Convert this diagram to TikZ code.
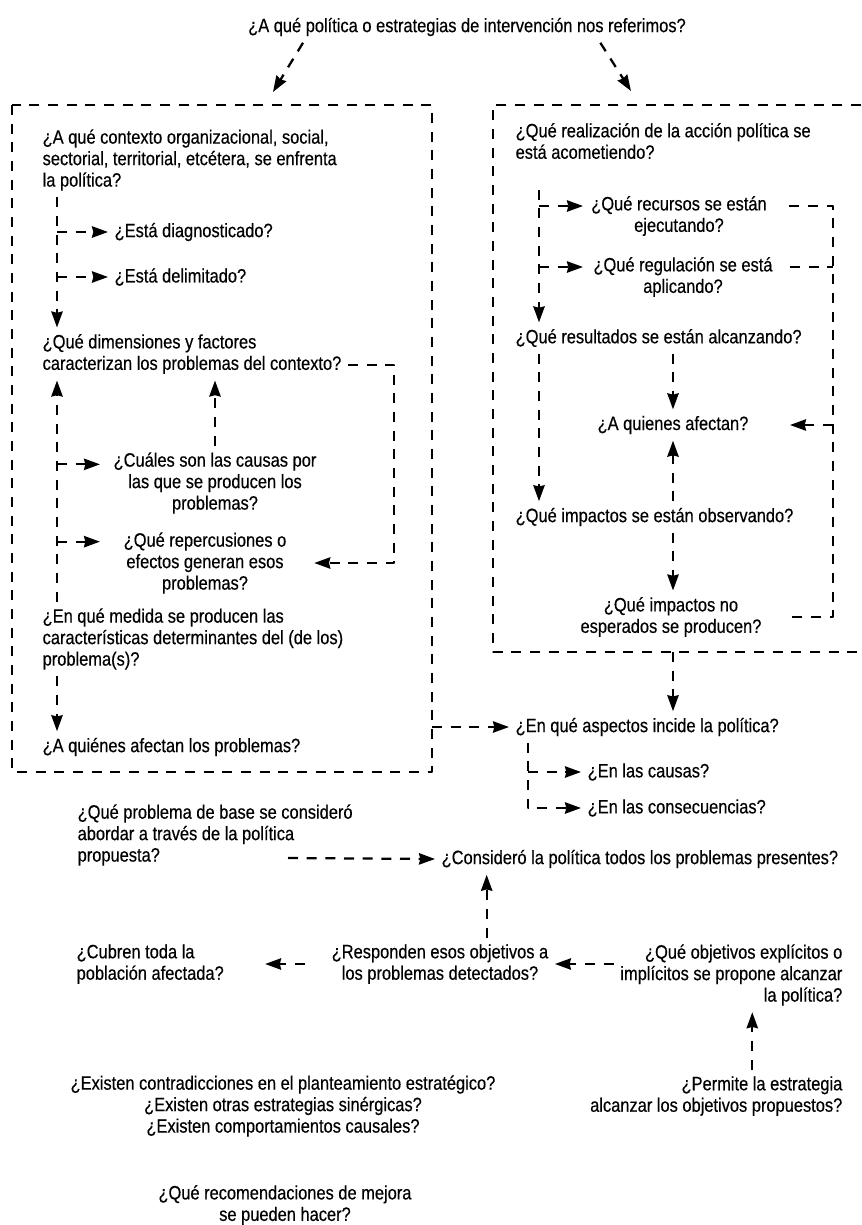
\documentclass[tikz,border=0pt]{standalone}
\usepackage{fontspec}
\setmainfont[FakeStretch=0.85,FakeBold=0.4]{Liberation Sans}
\usetikzlibrary{arrows.meta}

\begin{document}
\begin{tikzpicture}[x=0.75pt,y=-0.75pt,>={Stealth[length=12pt,width=8.5pt,inset=1pt]},
	font=\fontsize{14.5}{16.1}\selectfont, line join=round,
	q/.style={inner sep=0pt,outer sep=5pt,align=left},
	qc/.style={q,align=center},
	qr/.style={q,align=right},
	dl/.style={line width=1.7pt,dash pattern=on 7.5pt off 6.5pt},
	link/.style={dl,->}]
		%	\draw[color=gray!50,dashed] (0,0) grid[step=50] (861,1225);
		\useasboundingbox (0,0) rectangle (861,1225);
		\node[q] (title) at (467,27) {¿A qué política o estrategias de intervención nos referimos?};
		% left box
		\coordinate (lnw) at (12,105); \coordinate (lse) at (432,772);
		\draw[dl] (lnw) rectangle (lse);
		\node[q,anchor=west] (ctx) at (36,160) {¿A qué contexto organizacional, social,\\sectorial, territorial, etcétera, se enfrenta\\la política?};
		\node[q,anchor=west] (diag) at (108,232) {¿Está diagnosticado?};
		\node[q,anchor=west] (delim) at (108,277) {¿Está delimitado?};
		\node[q,anchor=west] (dims) at (36,354) {¿Qué dimensiones y factores\\caracterizan los problemas del contexto?};
		\node[qc] (caus) at (215,483) {¿Cuáles son las causas por\\las que se producen los\\problemas?};
		\node[qc] (rep) at (205,563) {¿Qué repercusiones o\\efectos generan esos\\problemas?};
		\node[q,anchor=west] (medida) at (36,639) {¿En qué medida se producen las\\características determinantes del (de los)\\problema(s)?};
		\node[q,anchor=west] (afect) at (36,747) {¿A quiénes afectan los problemas?};
		% right box
		\coordinate (rnw) at (493,105); \coordinate (rse) at (861,652);
		\draw[dl] (rse |- rnw) -- (rnw) |- (rse);
		\node[q,anchor=west] (real) at (509,141) {¿Qué realización de la acción política se\\está acometiendo?};
		\node[qc] (recur) at (679,216) {¿Qué recursos se están\\ejecutando?};
		\node[qc] (regul) at (683,277) {¿Qué regulación se está\\aplicando?};
		\node[q,anchor=west] (result) at (509,338) {¿Qué resultados se están alcanzando?};
		\node[qc] (quien) at (673,425) {¿A quienes afectan?};
		\node[q,anchor=west] (impobs) at (509,517) {¿Qué impactos se están observando?};
		\node[qc] (impno) at (671,617) {¿Qué impactos no\\esperados se producen?};
		% below
		\node[q,anchor=west] (aspect) at (509,727) {¿En qué aspectos incide la política?};
		\node[q,anchor=west] (causas) at (581,772) {¿En las causas?};
		\node[q,anchor=west] (conse) at (581,808) {¿En las consecuencias?};
		\node[q,anchor=west] (pbase) at (71,835) {¿Qué problema de base se consideró\\abordar a través de la política\\propuesta?};
		\node[q,anchor=west] (consid) at (435,859) {¿Consideró la política todos los problemas presentes?};
		\node[q,anchor=west] (cubren) at (70,964) {¿Cubren toda la\\población afectada?};
		\node[qc] (respond) at (440,964) {¿Responden esos objetivos a\\los problemas detectados?};
		\node[qr,anchor=east] (objet) at (849,975) {¿Qué objetivos explícitos o\\implícitos se propone alcanzar\\la política?};
		\node[qr,anchor=east] (permite) at (849,1096) {¿Permite la estrategia\\alcanzar los objetivos propuestos?};
		\node[qc] (exist) at (283,1106) {¿Existen contradicciones en el planteamiento estratégico?\\¿Existen otras estrategias sinérgicas?\\¿Existen comportamientos causales?};
		\node[qc] (recom) at (285,1205) {¿Qué recomendaciones de mejora\\se pueden hacer?};
		% title arrows
		\coordinate (la) at (273,92); \coordinate (ra) at (631,91);
		\draw[link] ([xshift=-123pt]title.south) -- (la);
		\draw[link] ([xshift=100pt]title.south) -- (ra);
		% left box links
		\coordinate (lx) at (57,0); \coordinate (lt) at (100,0); \coordinate (lr) at (394,0);
		\draw[link] (ctx.south -| lx) -- (dims.north -| lx);
		\draw[link] (diag.west -| lx) -- (diag.west);
		\draw[link] (delim.west -| lx) -- (delim.west);
		\draw[link] (medida.north -| lx) -- (dims.south -| lx);
		\draw[link] ([yshift=14pt]caus.west -| lx) -- ([yshift=14pt]caus.west -| lt);
		\draw[link] ([yshift=16pt]rep.west -| lx) -- ([yshift=16pt]rep.west -| lt);
		\draw[link] (caus.north) -- (caus.north |- dims.south);
		\draw[link] ([yshift=-8pt]dims.east) -- ([yshift=-8pt]dims.east -| lr) |- ([xshift=16pt]rep.east);
		\draw[link] (medida.south -| lx) -- (afect.north -| lx);
		% right box links
		\coordinate (rx) at (539,0); \coordinate (rt) at (583,0); \coordinate (rcx) at (833,0); \coordinate (rq) at (790,0);
		\draw[link] ([yshift=-18pt]real.south -| rx) -- (result.north -| rx);
		\draw[link] ([yshift=7.5pt]recur.west -| rx) -- ([yshift=7.5pt]recur.west -| rt);
		\draw[link] ([yshift=7.5pt]regul.west -| rx) -- ([yshift=7.5pt]regul.west -| rt);
		\draw[dl,shorten <=12pt,shorten >=18pt] ([yshift=7.5pt]recur.east) -| (rcx |- impno) -- (impno.east);
		\draw[dl,shorten <=8pt] ([yshift=7.5pt]regul.east) -- ([yshift=7.5pt]regul.east -| rcx);
		\draw[link] (rcx |- quien) -- (rq |- quien);
		\draw[link] (result.south -| quien) -- (quien.north);
		\draw[link] (result.south -| rx) -- (impobs.north -| rx);
		\draw[link] (impobs.north -| quien) -- (quien.south);
		\draw[link] (impobs.south -| quien) -- (impno.north -| quien);
		\draw[link] (rse -| quien) -- (aspect.north -| quien);
		\draw[link] (lse |- aspect) -- (aspect.west);
		% aspects
		\coordinate (ax) at (528,0);
		\draw[link] (aspect.south -| ax) |- (conse.west);
		\draw[link] (causas.west -| ax) -- (causas.west);
		% lower part
		\coordinate (pb) at (288,858);
		\draw[link] (pb) -- (consid.west);
		\draw[link] ([xshift=35pt]respond.north) -- ([xshift=35pt]respond.north |- consid.south);
		\draw[link,shorten <=15pt,shorten >=26pt] (respond.west) -- (cubren.east |- respond.west);
		\draw[link] (objet.west |- respond) -- (respond.east);
		\draw[link] ([xshift=27pt]permite.north) -- ([xshift=27pt]permite.north |- objet.south);
\end{tikzpicture}
\end{document}
